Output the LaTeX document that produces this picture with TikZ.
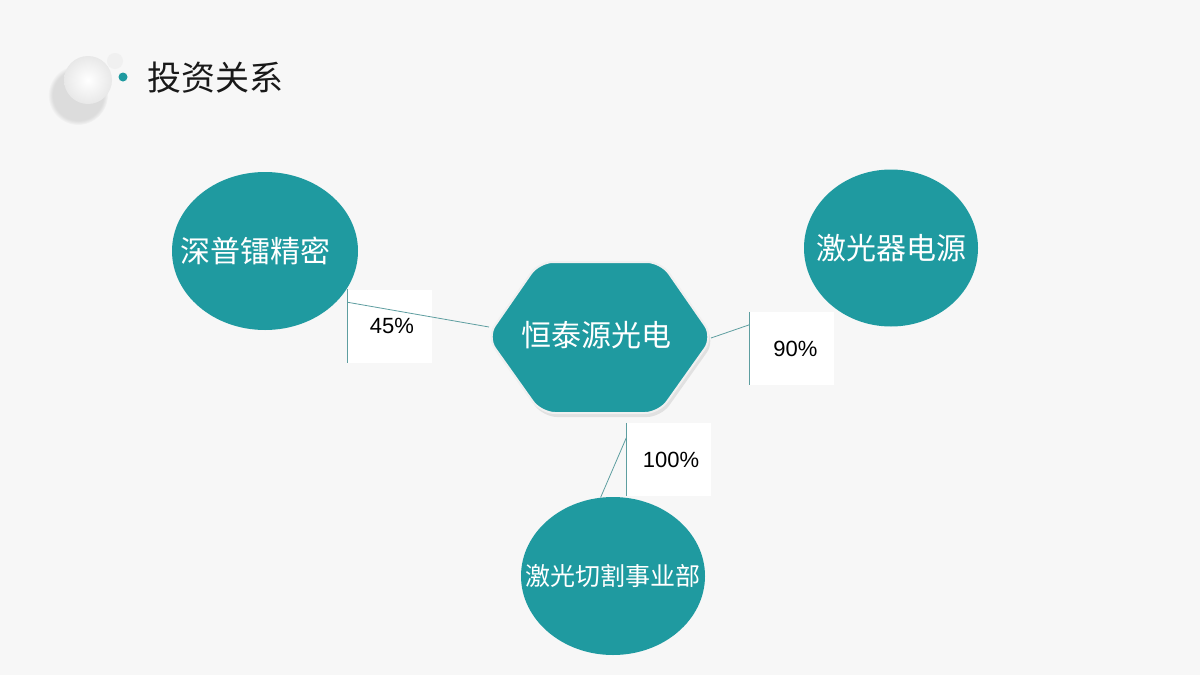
\documentclass[tikz,border=0pt]{standalone}
\usepackage{fontspec}
\setmainfont{Liberation Sans}
\newfontfamily\cjk{Noto Sans CJK SC}
\usetikzlibrary{shapes.geometric,shadows,calc}
\definecolor{tealmain}{HTML}{1F9AA0}
\definecolor{tealline}{HTML}{5E9EA0}
\definecolor{pagebg}{HTML}{F7F7F7}

\begin{document}
\begin{tikzpicture}[x=1pt,y=-1pt,
  company/.style={ellipse,fill=tealmain,text=white,inner ysep=0,inner xsep=-50,
    font=\cjk\fontsize{30}{32}\selectfont},
  share/.style={rectangle,fill=white,inner sep=0,minimum width=84,minimum height=73,
    font=\fontsize{22}{24}\selectfont},
  link/.style={draw=tealline,line width=0.8pt}]

  \fill[pagebg] (0,0) rectangle (1200,675);
  \useasboundingbox (0,0) rectangle (1200,675);

  % title with the little balls

  \node[circle,minimum size=48,inner sep=0,inner color=white,outer color=gray!18,
    circular drop shadow={shadow xshift=-8pt,shadow yshift=-12pt,shadow scale=1.25,opacity=.22}] (ball) at (88,80) {};
  \node[circle,minimum size=16,inner sep=0,fill=gray!12] (ballsm) at (115,61) {};
  \node[circle,minimum size=9,inner sep=0,fill=tealmain] (dot) at (123,77) {};
  \node[anchor=west,text=black!90,font=\cjk\fontsize{34}{36}\selectfont] (title) at (144,78) {投资关系};

  % share boxes and links (under the shapes)

  \node[share] (p45) at (390,326) {\hspace*{4pt}45\%};
  \node[share] (p90) at (791.5,348.5) {\hspace*{8pt}90\%};
  \node[share] (p100) at (668.5,459.5) {\hspace*{5pt}100\%};

  \coordinate (hts-w) at (489,327);
  \coordinate (hts-e) at (711,338);

  \draw[link] (p45.north west) -- (p45.south west);
  \draw[link] (p90.north west) -- (p90.south west);
  \draw[link] (p100.north west) -- (p100.south west);

  % main company

  \fill[tealmain,draw=white!88!gray,line width=2pt,rounded corners=14,
    drop shadow={shadow xshift=2pt,shadow yshift=-4pt,opacity=.18}]
    (487,337) -- (539,262) -- (661,262) -- (713,337) -- (659,413) -- (541,413) -- cycle;
  \node[text=white,font=\cjk\fontsize{30}{32}\selectfont] (hts) at (596,335) {恒泰源光电};

  % other companies

  \node[company,minimum width=186,minimum height=158] (spl) at (265,251) {深普镭精密\hspace*{20pt}};
  \node[company,minimum width=174,minimum height=157] (jgq) at (891,248) {激光器电源};
  \node[company,minimum width=184,minimum height=158,
    font=\cjk\fontsize{25}{27}\selectfont] (jgqg) at (613,576) {激光切割事业部};

  % connections

  \draw[link] ($(p45.north west)+(0,13)$) -- (hts-w);
  \draw[link] ($(p90.north west)+(0,13)$) -- (hts-e);
  \draw[link] ($(p100.north west)+(0,15)$) -- (jgqg.99);
\end{tikzpicture}
\end{document}
